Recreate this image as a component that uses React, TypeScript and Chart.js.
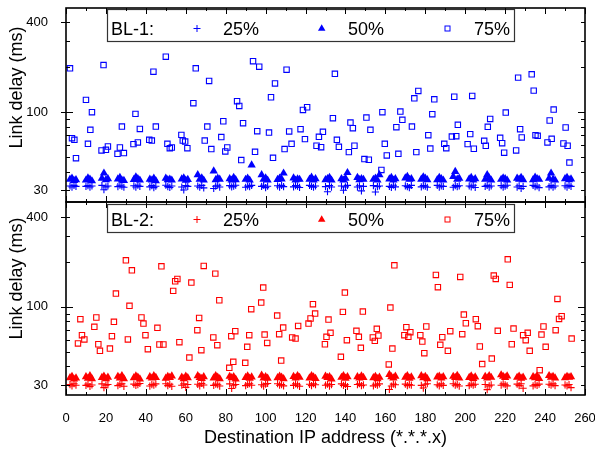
import React, { useEffect, useRef } from "react";
import { Chart, registerables } from "chart.js";

Chart.register(...registerables);

// ---- data ----
const ipX = [
  2, 3, 4, 5, 10, 11, 12, 13, 18, 19, 20, 21, 26, 27, 28, 29, 34, 35, 36, 37, 42, 43, 44, 45,
  50, 51, 52, 53, 58, 59, 60, 61, 66, 67, 68, 69, 74, 75, 76, 77, 82, 83, 84, 85, 90, 91, 92, 93,
  98, 99, 100, 101, 106, 107, 108, 109, 114, 115, 116, 117, 122, 123, 124, 125, 130, 131, 132, 133,
  138, 139, 140, 141, 146, 147, 148, 149, 154, 155, 156, 157, 162, 163, 164, 165, 170, 171, 172, 173,
  178, 179, 180, 181, 186, 187, 188, 189, 194, 195, 196, 197, 202, 203, 204, 205, 210, 211, 212, 213,
  218, 219, 220, 221, 226, 227, 228, 229, 234, 235, 236, 237, 242, 243, 244, 245, 250, 251, 252, 253,
];

const bl1P25 = [
  32, 31.5, 32.3, 31.8, 31.8, 32.2, 31.5, 32, 32.3, 30.2, 31.6, 32, 31.7, 32.4, 31.9, 31.4,
  32.1, 31.5, 32.4, 31.8, 31.6, 32.2, 31.2, 31.9, 32.4, 31.7, 31.3, 32, 31.5, 30.1, 32.2, 31.8,
  32, 31.4, 32.3, 31.1, 30.8, 31.9, 32.4, 31.5, 32.2, 31.6, 31.9, 32.4, 31.4, 32, 31.7, 32.3,
  31.8, 32.4, 31.2, 31.9, 32.1, 31.5, 32.3, 31.7, 31.6, 32.2, 31.9, 31.3, 32.3, 31.8, 31.4, 32,
  31.7, 29.3, 32.2, 31.5, 32, 30, 31.6, 32.3, 31.5, 32.1, 29.7, 31.8, 32.2, 29.2, 31.7, 32,
  31.8, 31.3, 32.4, 31.6, 32.1, 31.7, 31.2, 32.3, 31.6, 32.2, 31.9, 31.4, 32.3, 31.5, 32, 31.8,
  31.4, 32.2, 31.7, 32.1, 32, 31.6, 32.4, 31.3, 31.8, 32.3, 31.5, 32, 32.2, 31.4, 31.9, 32.4,
  31.5, 32.1, 30.8, 31.8, 32.3, 31.7, 32, 31.2, 31.6, 32.2, 31.4, 32, 32.1, 31.5, 32.3, 31.8,
];

const bl1P50 = [
  35.5, 36, 34.8, 35.2, 35, 36.2, 35.5, 34.6, 36, 39, 35.2, 35.8, 35.6, 36.4, 35, 34.8,
  35.3, 36.8, 35.8, 35, 35.5, 35, 36, 34.7, 36, 35.2, 35.5, 35, 35.6, 36.2, 34.9, 35.3,
  38, 35.5, 36.2, 35, 40.3, 35.2, 36, 35.5, 35.8, 35, 36.4, 35.2, 35.4, 36, 35, 44.2,
  38, 35.5, 36.2, 35, 35.3, 36, 35.6, 39, 36.2, 35, 35.6, 35.4, 35.5, 36.6, 35, 35.8,
  35.2, 35.8, 36.4, 35, 35.8, 35, 36, 39.3, 36.5, 35.2, 35.8, 35.4, 35.4, 36, 35, 38,
  35.6, 36.4, 35, 35.8, 36.2, 37, 35.4, 35.8, 35.5, 36.8, 36, 35.2, 35.2, 36.4, 35.8, 35,
  37, 40, 35.5, 36, 35.6, 36.4, 35, 35.8, 35.5, 38, 36.2, 35, 35.4, 36.2, 35.8, 35,
  36, 35.5, 36.4, 35.2, 35.2, 36.6, 35.8, 35.4, 36, 39, 35.5, 35, 35.8, 36.4, 35.2, 35.6,
];

const bl1P75X = [
  2, 3, 4.2, 5, 10, 11, 12.2, 13, 17.8, 18.8, 20, 21, 25.8, 27, 28, 29, 33.8, 34.8, 36, 37,
  41.7, 43, 43.8, 45, 50, 50.8, 52, 53, 57.8, 58.5, 59.7, 60.8, 63.8, 65, 69.5, 70.8, 71.7, 72.8,
  77.8, 78.8, 79.8, 80.8, 85.7, 86.8, 87.8, 88.7, 93.7, 94.7, 95.8, 96.8, 101.7, 102.7, 103.7, 104.7,
  109.5, 110.5, 111.8, 113, 117.5, 118.7, 119.7, 120.8, 125.5, 126.7, 127.8, 128.7, 133.7, 134.7, 135.7, 136.7,
  141.7, 142.5, 143.7, 144.5, 149.5, 150.5, 151.7, 152.5, 158, 158.5, 159.7, 160.7, 165.5, 166.5, 167.5, 168.5,
  173.3, 174.5, 175.5, 176.5, 181.5, 182.5, 183.5, 184.5, 189.5, 190.5, 193.3, 194.5, 195.5, 196.3,
  201.2, 202.5, 203.5, 204.3, 209.5, 210.3, 211.3, 212.5, 217.5, 218.5, 219.5, 220.3, 225.5, 226.5, 227.5, 228.3,
  233.3, 234.3, 235.2, 236.3, 241.2, 242.3, 243.3, 244.3, 249.2, 250.3, 251.3, 252.2,
];
const bl1P75Y = [
  197, 67, 65.3, 49.2, 121, 61.4, 76.2, 100, 55.4, 207, 56, 58.9, 52.6, 58, 80.2, 53.2, 61.1, 97.5, 62.7, 77.3,
  65.3, 64.6, 187, 80.2, 235.6, 61.4, 57.4, 58, 70.5, 64.6, 63.6, 57.4, 114.9, 197, 64.6, 80.2, 162, 56.6,
  68.1, 87, 54.6, 58, 118.5, 110.2, 47.8, 84.4, 220, 54.3, 74.6, 202, 73.1, 126, 49.5, 156,
  56.6, 193, 74.3, 61.4, 77, 103.6, 66, 108, 59.6, 68.4, 58.3, 73.9, 91.2, 181, 65.3, 58.6,
  54, 85.3, 78.2, 59.6, 48.5, 92.1, 48, 76.2, 41, 100, 61.4, 51.3, 79.4, 52.6, 101, 88.9,
  80.2, 124, 54, 139, 70.2, 57.1, 97, 122, 61.4, 57.4, 68.7, 127, 69.1, 82.3,
  61.1, 71.3, 128.6, 56.9, 64.3, 59.6, 79.8, 90.2, 67.4, 62, 53.5, 99.5, 55.4, 170.6, 77, 67.7,
  179.6, 139.6, 70.2, 69.5, 62.7, 88, 66.3, 104.2, 61.7, 79, 59.6, 46,
];

const bl2P25 = [
  30.2, 29.6, 30.6, 29.9, 29.8, 30.4, 29.3, 30, 30.5, 28.8, 29.9, 30.2, 29.7, 30.3, 30.6, 29.4,
  30.4, 29.8, 30.1, 30.7, 29.5, 30.2, 29.9, 30.5, 30.6, 29.7, 30.3, 29.4, 29.9, 30.5, 28.9, 30.2,
  30.3, 29.6, 30.7, 30, 29.8, 30.4, 30.1, 29.5, 30.5, 28.4, 29.9, 30.2, 29.7, 30.3, 30.6, 29.9,
  30.1, 29.5, 30.4, 30.7, 30.6, 29.9, 30.2, 29.6, 29.8, 30.5, 30, 29.4, 30.3, 29.7, 30.6, 30.1,
  29.9, 30.4, 29.5, 30.2, 30.5, 29.8, 30.1, 29.3, 30.2, 30.6, 29.7, 30, 29.6, 30.3, 29.9, 30.5,
  28, 29.5, 30.4, 30.1, 30.4, 29.7, 30.2, 29.9, 29.8, 28.6, 30.3, 30.6, 30.1, 29.6, 30.5, 29.8,
  30.6, 29.9, 30.2, 29.5, 29.7, 30.4, 29.9, 30.3, 30.2, 27.9, 29.6, 30, 29.9, 30.5, 30.1, 29.6,
  30.4, 29.7, 30.6, 28.5, 29.6, 30.2, 29.8, 30.4, 30.3, 29.9, 30.5, 29.7, 30, 29.6, 30.2, 28.8,
];

const bl2P50 = [
  33.5, 34.2, 32.8, 33.4, 34, 33.2, 34.5, 33, 33.6, 34.3, 33, 33.8, 34.2, 33.4, 34.6, 33,
  33.5, 34.4, 33.8, 32.9, 34, 33.3, 34.5, 33.6, 33.2, 34.1, 33.6, 34.4, 33.8, 33, 34.3, 33.5,
  34.5, 33.6, 33.1, 34, 33.4, 34.6, 33.8, 33, 34.2, 33.5, 34, 32.8, 33.6, 34.4, 33.2, 33.9,
  34.8, 33.4, 34, 33.2, 33.5, 34.3, 33.8, 33, 34.1, 33.3, 34.6, 33.7, 33.4, 34.5, 33.9, 33.1,
  34.3, 33.6, 34, 32.9, 33.7, 34.6, 33.2, 34, 34, 33.3, 34.4, 33.6, 33.5, 34.2, 33, 33.8,
  35.2, 34, 33.4, 34.3, 33.8, 34.6, 33.2, 33.9, 34.5, 33.5, 34.1, 33, 33.9, 34.3, 33.4, 34,
  34.2, 33.6, 34.7, 33.3, 33.6, 34.4, 33.1, 33.9, 34.1, 33.4, 34.5, 33.7, 35, 34.2, 33.6, 34.4,
  33.7, 34.3, 33.2, 33.8, 34, 33.5, 34.4, 33.1, 34.6, 33.8, 34.1, 33.4, 33.5, 34.2, 33.8, 34,
];

const bl2P75X = [
  6, 7.2, 8, 9.2, 14.2, 15.2, 16.2, 17, 22, 23, 24, 25, 30, 31, 31.8, 33, 37.8, 38.8, 39.8, 41,
  45.8, 46.8, 47.8, 48.8, 53.7, 54.7, 55.8, 56.8, 61.8, 62.8, 65.8, 66.7, 67.8, 69,
  73.8, 74.8, 75.8, 76.8, 81.8, 82.8, 83.8, 84.8, 89.8, 90.8, 91.8, 92.8, 97.8, 98.8, 99.5, 100.8,
  105.8, 106.8, 107.8, 108.8, 113.3, 115, 116.3, 121.5, 122.5, 123.7, 124.8, 129.7, 130.5, 131.5, 132.5,
  137.7, 138.7, 139.7, 140.7, 145.5, 146.7, 147.7, 148.7, 153.7, 154.7, 155.7, 156.5,
  161.7, 162.5, 163.5, 164.5, 169.5, 170.5, 171.5, 172.5, 177.5, 178.5, 179.5, 180.5,
  185.3, 186.3, 187.5, 188.5, 191.3, 192.5, 197.5, 198.5, 199.3, 200.3, 205.3, 206.3, 207.3, 208.5,
  213.3, 214.3, 215.3, 216.3, 221.3, 222.3, 223.3, 224.2, 229, 230.3, 231.3, 232.3,
  237.3, 238.2, 239.2, 240.3, 245.3, 246.2, 247, 248.3, 253.3,
];
const bl2P75Y = [
  56.9, 82.7, 64.6, 60.5, 73.5, 84.9, 56.2, 50.8, 52.6, 63.6, 79.4, 122.8, 205, 60.5, 101.6, 175.8, 84.9, 77.3, 64.6, 52.1,
  72.4, 56, 187, 56, 128, 148.5, 154, 58, 45.8, 145.5, 69.8, 84.4, 51.3, 188,
  62.4, 167, 55.4, 110.8, 39.1, 63.6, 42.9, 68.7, 42.2, 54, 64.6, 96.5, 106.9, 134.7, 65.3, 57.4,
  87.5, 65.6, 43.7, 72.7, 62.4, 61.4, 74.6, 77.3, 83.6, 104.2, 90.2, 56.2, 63, 82.3, 67,
  46.3, 92.6, 124.7, 59.8, 69.1, 63, 53.2, 93, 62.4, 59.2, 71.3, 64.3,
  41.2, 99, 52.6, 190, 64.6, 73.1, 63, 67.7, 64.6, 58.6, 49, 73.9,
  163.7, 135.4, 55.7, 62.7, 50.8, 68.7, 158.8, 65.6, 88.9, 77.7, 82.7, 74.3, 54.3, 41.4,
  45.1, 162, 154, 69.1, 208.4, 140.4, 56.2, 71.6, 64.6, 59.8, 67, 50.8,
  37.7, 65.3, 73.9, 54, 69.8, 113, 83.1, 86.6, 61.4,
];

const xTickLabels = [0, 20, 40, 60, 80, 100, 120, 140, 160, 180, 200, 220, 240, 260];
const xTickMarks = [0, 10, 20, 30, 40, 50, 60, 70, 80, 90, 100, 110, 120, 130, 140, 150, 160, 170, 180, 190, 200, 210, 220, 230, 240, 250, 260];
const yTickMarks = [30, 40, 50, 60, 70, 80, 90, 100, 200, 300, 400];
const yTickLabels = [30, 100, 400];
const seriesLabels = ["25%", "50%", "75%"];
const panelNames = ["BL-1:", "BL-2:"];
const xTitle = "Destination IP address (*.*.*.x)";
const yTitle = "Link delay (ms)";

const FONT = "'Liberation Sans', Arial, Helvetica, sans-serif";

interface PanelOpts {
  name: string;
  color: string;
  p25: number[];
  p50: number[];
  sqX: number[];
  sqY: number[];
  yMin: number;
  yMax: number;
  showX: boolean;
  offsetY: number;
  legendTop: number;
  legendBottom: number;
  textBase: number;
  titleCenter: number;
  padding: { left: number; right: number; top: number; bottom: number };
}

function makeChart(canvas: HTMLCanvasElement, o: PanelOpts) {
  const pts = (xs: number[], ys: number[]) => xs.map((x, i) => ({ x, y: ys[i] }));

  const decor = {
    id: "decor",
    afterDatasetsDraw(chart: any) {
      const ctx: CanvasRenderingContext2D = chart.ctx;
      const { left, right, top, bottom } = chart.chartArea;
      const xs = chart.scales.x;
      const ys = chart.scales.y;
      const off = o.offsetY;
      ctx.save();

      // legend box
      const lt = o.legendTop - off;
      const lb = o.legendBottom - off;
      ctx.fillStyle = "#fff";
      ctx.fillRect(107, lt, 407, lb - lt);
      ctx.strokeStyle = "#333";
      ctx.lineWidth = 1.2;
      ctx.strokeRect(107.5, lt + 0.5, 407, lb - lt);

      const tb = o.textBase - off;
      const my = tb - 6.5;
      ctx.fillStyle = "#000";
      ctx.font = `18px ${FONT}`;
      ctx.textAlign = "left";
      ctx.textBaseline = "alphabetic";
      ctx.fillText(o.name, 111, tb);
      ctx.fillText(seriesLabels[0], 223, tb);
      ctx.fillText(seriesLabels[1], 348, tb);
      ctx.fillText(seriesLabels[2], 474, tb);

      // legend markers
      ctx.strokeStyle = o.color;
      ctx.fillStyle = o.color;
      ctx.lineWidth = 1;
      ctx.beginPath();
      ctx.moveTo(197 - 3.5, my);
      ctx.lineTo(197 + 3.5, my);
      ctx.moveTo(197, my - 3.5);
      ctx.lineTo(197, my + 3.5);
      ctx.stroke();
      const tr = 4.3;
      ctx.beginPath();
      ctx.moveTo(321.7, my - tr);
      ctx.lineTo(321.7 - tr * 0.866, my + tr / 2);
      ctx.lineTo(321.7 + tr * 0.866, my + tr / 2);
      ctx.closePath();
      ctx.fill();
      ctx.strokeRect(445, my - 2.5, 5, 5);

      // tick marks
      ctx.strokeStyle = "#000";
      ctx.lineWidth = 1;
      ctx.beginPath();
      for (const v of xTickMarks) {
        const px = Math.round(xs.getPixelForValue(v)) + 0.5;
        const len = v % 20 === 0 ? 6 : 3;
        ctx.moveTo(px, bottom);
        ctx.lineTo(px, bottom - len);
        ctx.moveTo(px, top);
        ctx.lineTo(px, top + len);
      }
      for (const v of yTickMarks) {
        const py = Math.round(ys.getPixelForValue(v)) + 0.5;
        const len = v === 100 ? 7 : 4;
        ctx.moveTo(left, py);
        ctx.lineTo(left + len, py);
        ctx.moveTo(right, py);
        ctx.lineTo(right - len, py);
        if (yTickLabels.includes(v)) {
          ctx.moveTo(left, py);
          ctx.lineTo(left - 5, py);
        }
      }
      ctx.stroke();

      // frame
      ctx.lineWidth = 1.6;
      ctx.strokeRect(left, top, right - left, bottom - top);

      // y title
      ctx.save();
      ctx.translate(17.5, o.titleCenter - off);
      ctx.rotate(-Math.PI / 2);
      ctx.textAlign = "center";
      ctx.textBaseline = "middle";
      ctx.fillStyle = "#000";
      ctx.font = `18px ${FONT}`;
      ctx.fillText(yTitle, 0, 0);
      ctx.restore();

      ctx.restore();
    },
  };

  return new Chart(canvas, {
    type: "scatter",
    data: {
      datasets: [
        {
          label: seriesLabels[0],
          data: pts(ipX, o.p25),
          pointStyle: "cross",
          pointRadius: 3.6,
          borderWidth: 1.1,
          borderColor: o.color,
          backgroundColor: o.color,
        },
        {
          label: seriesLabels[1],
          data: pts(ipX, o.p50),
          pointStyle: "triangle",
          pointRadius: 4.8,
          borderWidth: 0,
          borderColor: o.color,
          backgroundColor: o.color,
        },
        {
          label: seriesLabels[2],
          data: pts(o.sqX, o.sqY),
          pointStyle: "rect",
          pointRadius: 3.8,
          borderWidth: 1.1,
          borderColor: o.color,
          backgroundColor: "rgba(255,255,255,0)",
        },
      ],
    } as any,
    options: {
      animation: false,
      responsive: false,
      maintainAspectRatio: false,
      events: [],
      layout: { padding: o.padding },
      plugins: { legend: { display: false }, tooltip: { enabled: false } },
      scales: {
        x: {
          type: "linear",
          min: 0,
          max: 260,
          display: o.showX,
          grid: { display: false },
          border: { display: false },
          afterBuildTicks: (s: any) => {
            s.ticks = xTickLabels.map((v) => ({ value: v }));
          },
          ticks: {
            color: "#000",
            font: { family: FONT, size: 13 },
            padding: 8,
            maxRotation: 0,
            autoSkip: false,
          },
          title: {
            display: o.showX,
            text: xTitle,
            color: "#000",
            font: { family: FONT, size: 18 },
            padding: { top: 0, bottom: 2 },
          },
          afterFit: (s: any) => {
            if (o.showX) s.height = 56;
            else s.height = 0;
            s.paddingLeft = 0;
            s.paddingRight = 0;
          },
        },
        y: {
          type: "logarithmic",
          min: o.yMin,
          max: o.yMax,
          grid: { display: false },
          border: { display: false },
          afterBuildTicks: (s: any) => {
            s.ticks = yTickLabels.map((v) => ({ value: v }));
          },
          ticks: {
            color: "#000",
            font: { family: FONT, size: 13 },
            padding: 10,
            callback: (v: any) => String(v),
          },
          afterFit: (s: any) => {
            s.width = 66;
            s.paddingTop = 0;
            s.paddingBottom = 0;
          },
        },
      },
    } as any,
    plugins: [decor],
  });
}

export default function App() {
  const topRef = useRef<HTMLCanvasElement>(null);
  const botRef = useRef<HTMLCanvasElement>(null);

  useEffect(() => {
    const c1 = makeChart(topRef.current!, {
      name: panelNames[0],
      color: "#0000ff",
      p25: bl1P25,
      p50: bl1P50,
      sqX: bl1P75X,
      sqY: bl1P75Y,
      yMin: 25,
      yMax: 500,
      showX: false,
      offsetY: 0,
      legendTop: 9,
      legendBottom: 41,
      textBase: 35,
      titleCenter: 87.5,
      padding: { left: 0, right: 10, top: 8, bottom: 8 },
    });
    const c2 = makeChart(botRef.current!, {
      name: panelNames[1],
      color: "#ff0000",
      p25: bl2P25,
      p50: bl2P50,
      sqX: bl2P75X,
      sqY: bl2P75Y,
      yMin: 25.7,
      yMax: 504,
      showX: true,
      offsetY: 195,
      legendTop: 204,
      legendBottom: 232,
      textBase: 226,
      titleCenter: 278.5,
      padding: { left: 0, right: 10, top: 7, bottom: 0 },
    });
    return () => {
      c1.destroy();
      c2.destroy();
    };
  }, []);

  return (
    <div style={{ position: "fixed", left: 0, top: 0, width: 595, height: 451, background: "#fff", overflow: "hidden" }}>
      <canvas ref={botRef} width={595} height={256} style={{ position: "absolute", left: 0, top: 195 }} />
      <canvas ref={topRef} width={595} height={210} style={{ position: "absolute", left: 0, top: 0 }} />
    </div>
  );
}
